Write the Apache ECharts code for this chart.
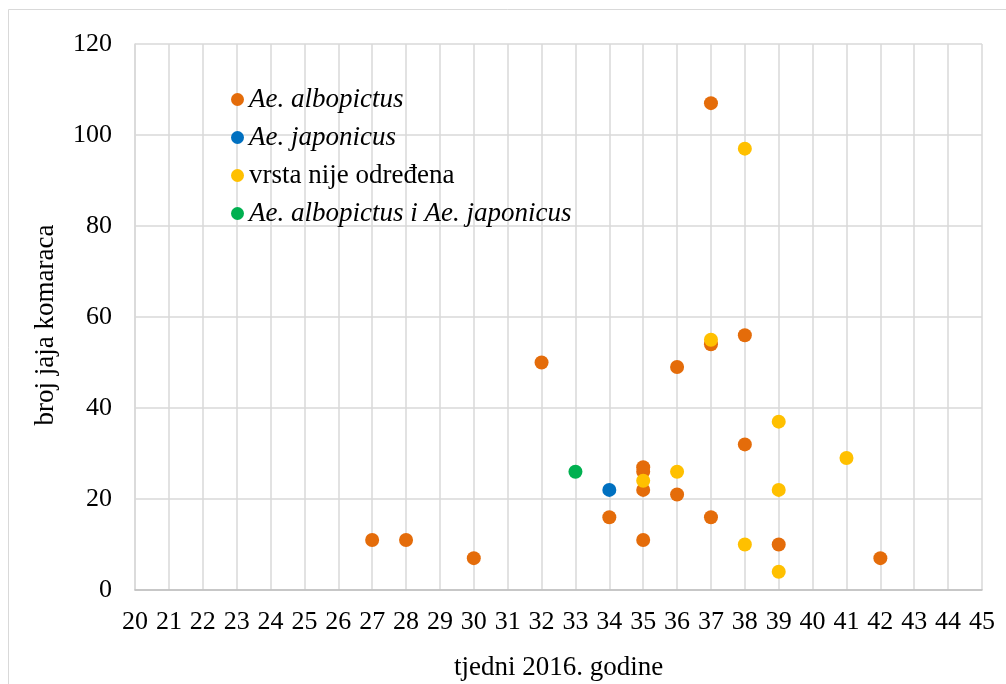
<!DOCTYPE html>
<html>
<head>
<meta charset="utf-8">
<script src="https://cdn.jsdelivr.net/npm/echarts@6/dist/echarts.min.js"></script>
<style>
html,body{margin:0;padding:0;background:#fff;}
#c{width:1006px;height:684px;}
</style>
</head>
<body>
<div id="c"></div>
<script>
// Series names
const seriesNames = ['Ae. albopictus', 'Ae. japonicus', 'vrsta nije određena', 'Ae. albopictus i Ae. japonicus'];
// Ae. albopictus: [week, eggs]
const albopictus = [[27,11],[28,11],[30,7],[32,50],[34,16],[35,27],[35,26],[35,22],[35,11],[36,49],[36,21],[37,107],[37,54],[37,16],[38,56],[38,32],[39,10],[42,7]];
// Ae. japonicus
const japonicus = [[34,22]];
// vrsta nije određena
const undetermined = [[35,24],[36,26],[37,55],[38,97],[38,10],[39,37],[39,22],[39,4],[41,29]];
// Ae. albopictus i Ae. japonicus
const both = [[33,26]];

const xAxisTitle = 'tjedni 2016. godine';
const yAxisTitle = 'broj jaja komaraca';

const colors = ['#E46C0A', '#0070C0', '#FFC000', '#00B050'];
const dataSets = [albopictus, japonicus, undetermined, both];
const italic = [true, true, false, true];
const FONT = '"Liberation Serif", "Times New Roman", serif';

const chart = echarts.init(document.getElementById('c'), null, {renderer: 'canvas'});
chart.setOption({
  animation: false,
  backgroundColor: '#fff',
  textStyle: {fontFamily: FONT},
  graphic: [{
    type: 'rect',
    shape: {x: 8.5, y: 9.5, width: 1200, height: 900},
    style: {fill: 'none', stroke: '#d9d9d9', lineWidth: 1},
    silent: true
  }],
  grid: {left: 135, right: 24, top: 44, bottom: 94, containLabel: false, outerBoundsMode: 'none'},
  legend: {
    orient: 'vertical',
    left: 226,
    top: 81,
    padding: 5,
    itemWidth: 13,
    itemHeight: 13,
    itemGap: 11,
    icon: 'circle',
    textStyle: {fontFamily: FONT, fontSize: 27, color: '#000'},
    data: seriesNames.map((n, i) => ({
      name: n,
      textStyle: {fontStyle: italic[i] ? 'italic' : 'normal', fontFamily: FONT, fontSize: 27, color: '#000'}
    }))
  },
  xAxis: {
    type: 'value',
    min: 20, max: 45, interval: 1,
    name: xAxisTitle,
    nameLocation: 'middle',
    nameGap: 64,
    nameTextStyle: {fontFamily: FONT, fontSize: 27, color: '#000'},
    axisLine: {show: true, lineStyle: {color: '#bfbfbf', width: 1.5}},
    axisTick: {show: false},
    splitLine: {show: true, lineStyle: {color: '#d9d9d9', width: 1.5}},
    axisLabel: {fontFamily: FONT, fontSize: 26, color: '#000', margin: 19}
  },
  yAxis: {
    type: 'value',
    min: 0, max: 120, interval: 20,
    name: yAxisTitle,
    nameLocation: 'middle',
    nameGap: 76,
    nameRotate: 90,
    nameTextStyle: {fontFamily: FONT, fontSize: 27, color: '#000', padding: [0, 16, 0, 0]},
    axisLine: {show: true, lineStyle: {color: '#d9d9d9', width: 1.5}},
    axisTick: {show: false},
    splitLine: {show: true, lineStyle: {color: '#d9d9d9', width: 1.5}},
    axisLabel: {fontFamily: FONT, fontSize: 26, color: '#000', margin: 23}
  },
  series: dataSets.map((d, i) => ({
    name: seriesNames[i],
    type: 'scatter',
    data: d,
    symbol: 'circle',
    symbolSize: 14,
    itemStyle: {color: colors[i], opacity: 1},
    z: i === 2 ? 3 : 2
  }))
});
</script>
</body>
</html>
